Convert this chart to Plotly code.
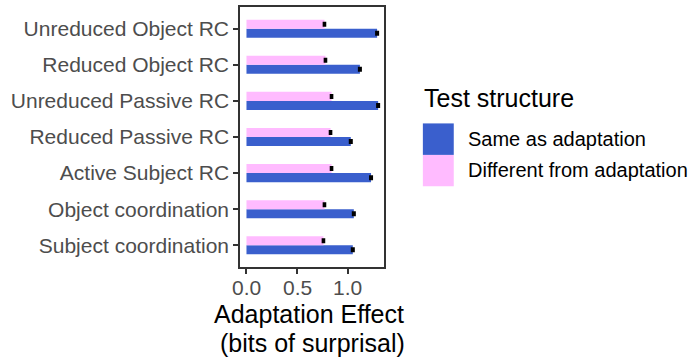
import plotly.graph_objects as go

# Sentence structures, listed top to bottom
structures = [
    "Unreduced Object RC",
    "Reduced Object RC",
    "Unreduced Passive RC",
    "Reduced Passive RC",
    "Active Subject RC",
    "Object coordination",
    "Subject coordination",
]

# Adaptation effect (bits of surprisal) per test condition
same_effect = [1.29, 1.12, 1.30, 1.03, 1.23, 1.06, 1.05]
diff_effect = [0.77, 0.78, 0.84, 0.83, 0.84, 0.77, 0.76]

# Standard errors
same_se = [0.010, 0.010, 0.010, 0.010, 0.010, 0.010, 0.010]
diff_se = [0.008, 0.008, 0.008, 0.008, 0.008, 0.008, 0.008]

x_tickvals = [0, 0.5, 1.0]
x_ticktext = ["0.0", "0.5", "1.0"]
x_title_lines = ["Adaptation Effect", "(bits of surprisal)"]

legend_title = "Test structure"
legend_labels = ["Same as adaptation", "Different from adaptation"]
colors = ["#3A5FCD", "#FFBBFF"]

W, H = 699, 362
ML, MR, MT, MB = 239.5, 315, 6.5, 95.3
PW, PH = W - ML - MR, H - MT - MB


def px_x(px):
    return (px - ML) / PW


def px_y(py):
    return (H - MB - py) / PH


FONT = "Liberation Sans, Arial, sans-serif"

fig = go.Figure()
for vals, errs, col, name in [
    (same_effect, same_se, colors[0], legend_labels[0]),
    (diff_effect, diff_se, colors[1], legend_labels[1]),
]:
    fig.add_trace(go.Bar(
        y=structures, x=vals, orientation="h", name=name,
        marker=dict(color=col, line=dict(width=0)),
        error_x=dict(type="data", array=errs, color="black",
                     thickness=2, width=2.5),
        showlegend=False,
    ))

shapes = []
annotations = []

# x tick labels, placed on the data scale below the panel
for val, lab in zip(x_tickvals, x_ticktext):
    annotations.append(dict(
        text=lab, x=val, y=px_y(287.5), xref="x", yref="paper",
        xanchor="center", yanchor="middle", showarrow=False,
        font=dict(family=FONT, size=21, color="#4D4D4D"),
    ))

# Two-line x axis title
for text, cx, cy in [(x_title_lines[0], 309, 313.5),
                     (x_title_lines[1], 312.5, 342.5)]:
    annotations.append(dict(
        text=text, x=px_x(cx), y=px_y(cy), xref="paper", yref="paper",
        xanchor="center", yanchor="middle", showarrow=False,
        font=dict(family=FONT, size=25, color="black"),
    ))

# Legend drawn as keys and labels beside the panel
annotations.append(dict(
    text=legend_title, x=px_x(422), y=px_y(98), xref="paper", yref="paper",
    xanchor="left", yanchor="middle", showarrow=False,
    font=dict(family=FONT, size=25, color="black"),
))
key_top = 123
for i, (lab, col) in enumerate(zip(legend_labels, colors)):
    y0 = key_top + i * 31.5
    shapes.append(dict(
        type="rect", xref="paper", yref="paper",
        x0=px_x(423), x1=px_x(454), y0=px_y(y0), y1=px_y(y0 + 31.5),
        fillcolor=col, line=dict(width=0),
    ))
    annotations.append(dict(
        text=lab, x=px_x(466), y=px_y(y0 + 15.5), xref="paper", yref="paper",
        xanchor="left", yanchor="middle", showarrow=False,
        font=dict(family=FONT, size=20, color="black"),
    ))

fig.update_layout(
    width=W, height=H,
    margin=dict(l=ML, r=MR, t=MT, b=MB, pad=0),
    paper_bgcolor="white", plot_bgcolor="white",
    barmode="group", bargap=0.5, bargroupgap=0,
    font=dict(family=FONT, size=21, color="#4D4D4D"),
    shapes=shapes, annotations=annotations,
    xaxis=dict(
        range=[-0.064, 1.358], tickvals=x_tickvals, showticklabels=False,
        showgrid=False, zeroline=False,
        showline=True, mirror=True, linecolor="#333333", linewidth=1.5,
        ticks="outside", ticklen=5, tickwidth=1.5, tickcolor="#333333",
    ),
    yaxis=dict(
        categoryorder="array", categoryarray=structures[::-1],
        range=[-0.6, 6.6],
        showgrid=False, zeroline=False,
        showline=True, mirror=True, linecolor="#333333", linewidth=1.5,
        ticks="outside", ticklen=5, tickwidth=1.5, tickcolor="#333333",
        tickfont=dict(size=21, color="#4D4D4D"),
    ),
)

fig.write_html("out.html")
